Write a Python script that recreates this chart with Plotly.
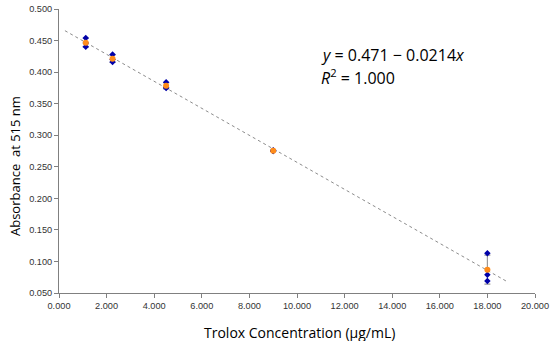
import plotly.graph_objects as go
import numpy as np

conc = [1.125, 2.25, 4.5, 9.0, 18.0]
rep1 = [0.454, 0.428, 0.384, 0.276, 0.113]
rep2 = [0.446, 0.420, 0.376, 0.275, 0.079]
rep3 = [0.440, 0.416, 0.375, 0.275, 0.069]
intercept = 0.471
slope = -0.0214
trend_x = [0.25, 18.8]

reps = np.array([rep1, rep2, rep3])
mean = reps.mean(axis=0)
sd = reps.std(axis=0, ddof=1)

L, R, T, B, W, H = 59, 15, 9, 48, 550, 341
pw, ph = W - L - R, H - T - B


def px(x):
    return (x - L) / pw


def py(y):
    return 1 - (y - T) / ph


fig = go.Figure()
tx = np.array(trend_x)
fig.add_trace(go.Scatter(x=tx, y=intercept + slope * tx, mode="lines",
                         line=dict(color="#8c8c8c", width=1, dash="dot"), showlegend=False))
fig.add_trace(go.Scatter(
    x=conc, y=mean, mode="markers",
    marker=dict(color="rgba(0,0,0,0)", size=1),
    error_y=dict(type="data", array=sd, color="#999999", thickness=1.2, width=3),
    showlegend=False))
for r in [rep1, rep2, rep3]:
    fig.add_trace(go.Scatter(x=conc, y=r, mode="markers",
                             marker=dict(color="#0000a8", size=5, symbol="diamond"),
                             showlegend=False))
fig.add_trace(go.Scatter(x=conc, y=mean, mode="markers",
                         marker=dict(color="#ff8c1a", size=6, symbol="circle"),
                         showlegend=False))

eqfont = dict(family="Open Sans", size=16, color="black")
fig.add_annotation(x=px(319), y=py(55), xref="paper", yref="paper", showarrow=False,
                   text="<i>y</i> = 0.471 \u2212 0.0214<i>x</i>",
                   xanchor="left", yanchor="middle", font=eqfont)
fig.add_annotation(x=px(319), y=py(77), xref="paper", yref="paper", showarrow=False,
                   text="<i>R</i><sup>2</sup> = 1.000",
                   xanchor="left", yanchor="middle", font=eqfont)
fig.add_annotation(x=px(299), y=py(332), xref="paper", yref="paper", showarrow=False,
                   text="Trolox Concentration (\u00b5g/mL)",
                   xanchor="center", yanchor="middle",
                   font=dict(family="Open Sans", size=14, color="black"))
fig.add_annotation(x=px(15), y=py(166), xref="paper", yref="paper", showarrow=False,
                   text="Absorbance  at 515 nm", textangle=-90,
                   xanchor="center", yanchor="middle",
                   font=dict(family="Open Sans", size=13, color="black"))

fig.update_layout(
    width=W, height=H,
    margin=dict(l=L, r=R, t=T, b=B, autoexpand=False),
    plot_bgcolor="white", paper_bgcolor="white",
    font=dict(family="Liberation Sans", color="#333333"),
    xaxis=dict(range=[0, 20], dtick=2, tickformat=".3f", showgrid=False, zeroline=False,
               showline=True, linecolor="#808080", linewidth=1, ticks="outside",
               ticklen=4, tickcolor="#808080", tickfont=dict(size=9.2, color="#333333"),
               automargin=False),
    yaxis=dict(range=[0.05, 0.5], dtick=0.05, tickformat=".3f", showgrid=False, zeroline=False,
               showline=True, linecolor="#808080", linewidth=1, ticks="outside",
               ticklen=4, tickcolor="#808080", tickfont=dict(size=9.2, color="#333333"),
               automargin=False),
)

fig.write_html("out.html", config={"displayModeBar": False},
               post_script="document.body.style.margin='0';document.body.style.overflow='hidden';")
